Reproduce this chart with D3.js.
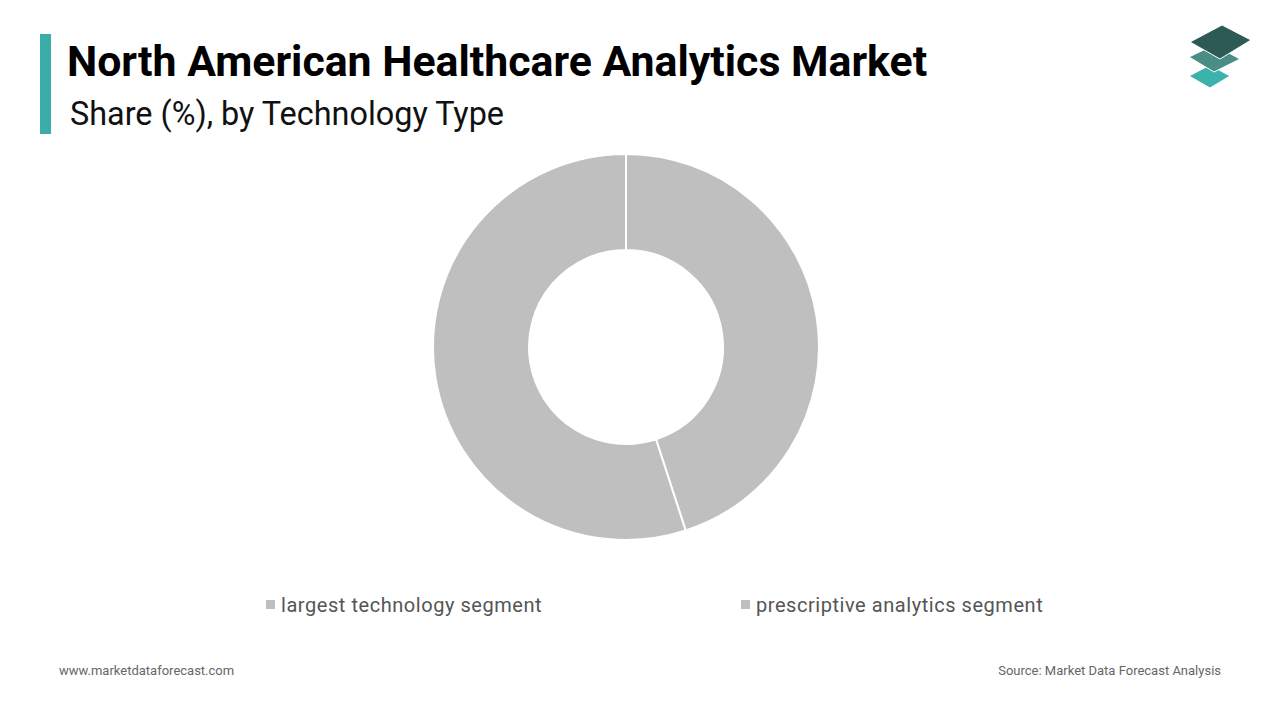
<!DOCTYPE html>
<html><head><meta charset="utf-8">
<script src="https://cdn.jsdelivr.net/npm/d3@7"></script>
<style>body{margin:0;background:#fff;font-family:Roboto,"Open Sans",sans-serif}</style>
</head><body>
<svg id="chart" width="1280" height="720"></svg>
<script>
const categories = ["largest technology segment", "prescriptive analytics segment"];
const shares = [45, 55];
const colours = ["#bfbfbf", "#bfbfbf"];

let svg = d3.select("#chart");

// header
svg.append("rect").attr("x", 40).attr("y", 34).attr("width", 11).attr("height", 100).attr("fill", "#3aada8");
svg.append("text").attr("x", 67).attr("y", 76).text("North American Healthcare Analytics Market")
	.attr("font-size", 42.8).attr("font-weight", "bold").attr("fill", "#000");
svg.append("text").attr("x", 70).attr("y", 125).text("Share (%), by Technology Type")
	.attr("font-size", 32.4).attr("fill", "#111");

// logo
let logo = svg.append("g");
[["M1189,76 L1210,65 L1230,76 L1210,88 Z", "#3bb3ac"],
 ["M1189,57 L1214,45 L1240,59 L1214,72 Z", "#4a8d86"],
 ["M1190,42 L1222,25 L1251,40 L1220,59 Z", "#2e5a56"]].forEach(([d, c]) => {
	logo.append("path").attr("d", d).attr("fill", c).attr("stroke", "#fff").attr("stroke-width", 1);
});

// donut
let pie = d3.pie().sort(null).value(d => d)(shares);
let arc = d3.arc().innerRadius(97).outerRadius(193);
svg.append("g").attr("transform", "translate(626,347)")
	.selectAll("path").data(pie).enter().append("path")
	.attr("d", arc)
	.attr("fill", (d, i) => colours[i])
	.attr("stroke", "#fff").attr("stroke-width", 2);

// legend
let legendX = [266, 741];
let legend = svg.selectAll(".leg").data(categories).enter().append("g")
	.attr("transform", (d, i) => `translate(${legendX[i]},605)`);
legend.append("rect").attr("x", 0).attr("y", -5).attr("width", 9).attr("height", 9).attr("fill", (d, i) => colours[i]);
legend.append("text").attr("x", 15).attr("y", 7).text(d => d).attr("font-size", 20)
	.attr("letter-spacing", 0.55).attr("fill", "#555");

// footer
svg.append("text").attr("x", 59).attr("y", 675).text("www.marketdataforecast.com").attr("font-size", 13).attr("fill", "#666");
svg.append("text").attr("x", 1221).attr("y", 675).attr("text-anchor", "end").text("Source: Market Data Forecast Analysis").attr("font-size", 13).attr("fill", "#666");
</script>
</body></html>
